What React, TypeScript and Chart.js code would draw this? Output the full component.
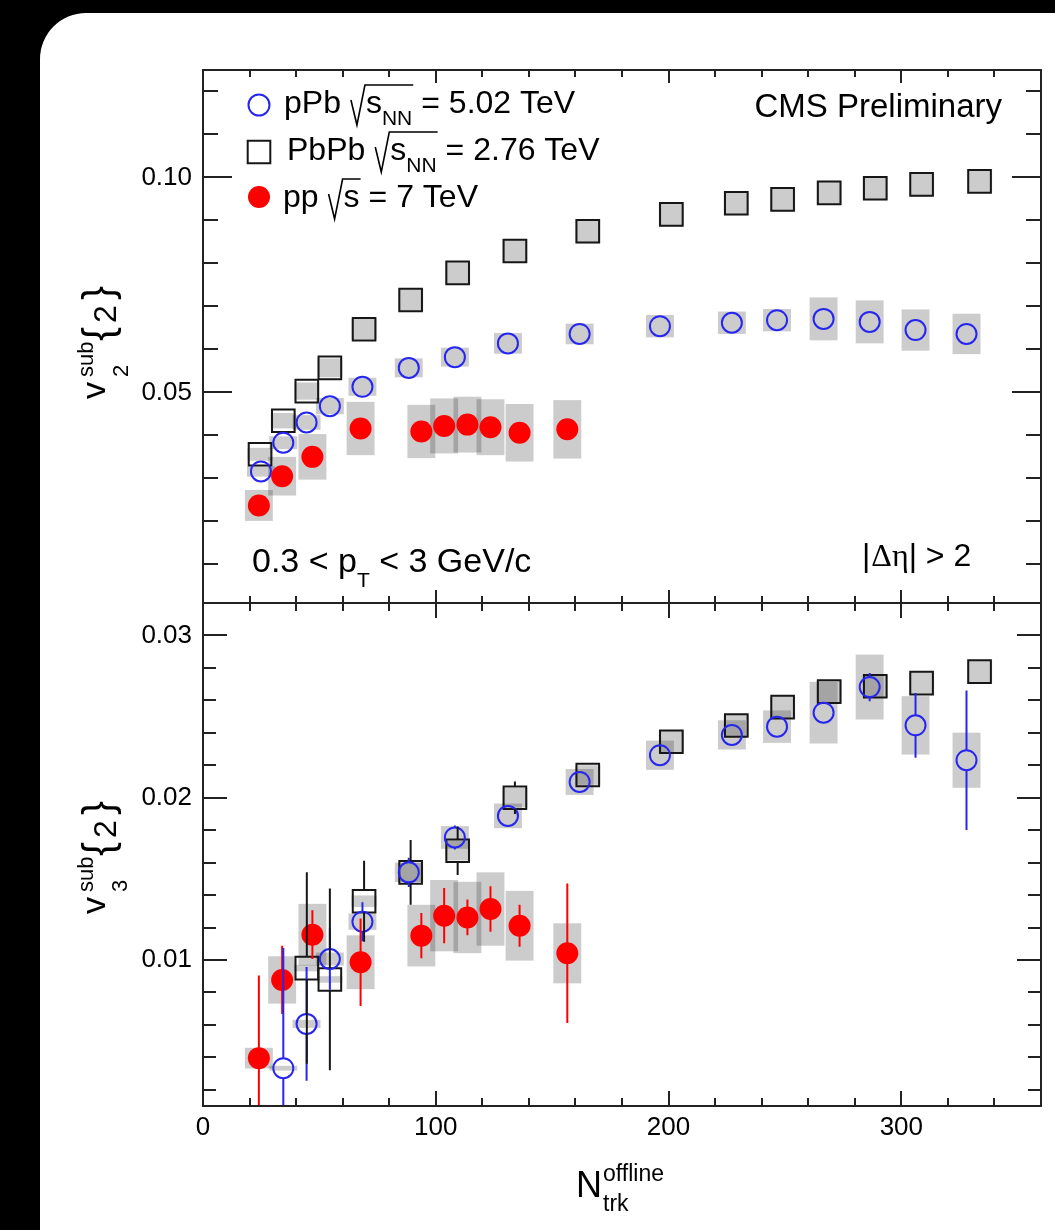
import React, { useEffect, useRef } from 'react';
import { Chart, registerables } from 'chart.js';

Chart.register(...registerables);

const SANS = '"Liberation Sans", Arial, Helvetica, sans-serif';
const SERIF = '"Liberation Serif", "DejaVu Serif", Times, serif';

const BLUE = '#2626ee';
const RED = '#ff0000';
const BLACK = '#161616';
const BOX = 'rgba(0,0,0,0.2)';

// ---- x values (N_trk^offline) ----
const pPbN = [24.9, 34.5, 44.5, 54.5, 68.5, 88.4, 108.2, 131, 161.8, 196.3, 227.2, 246.6, 266.6, 286.4, 306.1, 328];
const PbPbN = [24.5, 34.5, 44.6, 54.5, 69.2, 89.2, 109.4, 134, 165.3, 201.2, 229.1, 249, 269, 288.8, 308.7, 333.6];
const ppN = [24, 34, 47, 67.7, 93.8, 103.6, 113.6, 123.5, 136, 156.5];

// ---- v2 (top panel) ----
const pPbV2 = [0.0316, 0.0383, 0.043, 0.0468, 0.0513, 0.0557, 0.0582, 0.0614, 0.0636, 0.0654, 0.0662, 0.0668, 0.0671, 0.0664, 0.0645, 0.0636];
const pPbV2Sys = [0.0012, 0.0015, 0.0017, 0.0019, 0.0021, 0.0022, 0.0022, 0.0024, 0.0024, 0.0026, 0.0026, 0.0026, 0.005, 0.005, 0.0048, 0.0047];
const PbPbV2 = [0.0356, 0.0434, 0.0503, 0.0557, 0.0647, 0.0715, 0.0778, 0.0829, 0.0875, 0.0914, 0.094, 0.0949, 0.0964, 0.0975, 0.0984, 0.0991];
const PbPbV2Sys = [0.0015, 0.0018, 0.002, 0.0022, 0.0024, 0.0026, 0.0027, 0.0028, 0.0028, 0.0028, 0.0028, 0.0028, 0.0028, 0.0028, 0.0028, 0.0028];
const ppV2 = [0.0237, 0.0305, 0.035, 0.0416, 0.0409, 0.0422, 0.0425, 0.0419, 0.0406, 0.0414];
const ppV2Sys = [0.0036, 0.0045, 0.0053, 0.0062, 0.0062, 0.0064, 0.0065, 0.0065, 0.0067, 0.0068];

// ---- v3 (bottom panel) ----
const pPbV3 = [null, 0.00333, 0.00606, 0.01006, 0.01236, 0.0154, 0.01755, 0.01888, 0.02097, 0.02262, 0.02387, 0.02438, 0.02524, 0.02682, 0.02446, 0.02231];
const pPbV3Stat = [null, 0.0074, 0.0035, 0.0019, 0.0012, 0.0009, 0.00074, 0.0005, 0.0005, 0.0005, 0.0005, 0.0005, 0.0006, 0.00087, 0.002, 0.0043];
const pPbV3Sys = [null, 0.00015, 0.00025, 0.0004, 0.0005, 0.0006, 0.0007, 0.00076, 0.0008, 0.0009, 0.0009, 0.001, 0.0019, 0.002, 0.0018, 0.0017];
const PbPbV3 = [null, null, 0.0095, 0.0088, 0.01362, 0.0154, 0.01673, 0.02, 0.0214, 0.02345, 0.02445, 0.02558, 0.02654, 0.02687, 0.02706, 0.02777];
const PbPbV3Stat = [null, null, 0.0059, 0.0056, 0.0025, 0.002, 0.0015, 0.001, 0.0006, 0.0004, 0.0004, 0.0004, 0.0004, 0.0004, 0.0004, 0.0004];
const PbPbV3Sys = [null, null, 0.0002, 0.0002, 0.00036, 0.0006, 0.0006, 0.0006, 0.0006, 0.0007, 0.0007, 0.0007, 0.0007, 0.0007, 0.0007, 0.0007];
const ppV3 = [0.00395, 0.00877, 0.01156, 0.00986, 0.0115, 0.01273, 0.01262, 0.01314, 0.01211, 0.01041];
const ppV3Stat = [0.0051, 0.0021, 0.0015, 0.0027, 0.0014, 0.0017, 0.0011, 0.0014, 0.0013, 0.0043];
const ppV3Sys = [0.00064, 0.00146, 0.0019, 0.00166, 0.0019, 0.0022, 0.0022, 0.00226, 0.00215, 0.00185];

// ---- axes / ticks ----
const xRange = [0, 360];
const xTicks = [0, 20, 40, 60, 80, 100, 120, 140, 160, 180, 200, 220, 240, 260, 280, 300, 320, 340, 360];
const xMajor = [0, 100, 200, 300];
const v2Range = [0.001, 0.125];
const v2Ticks = [0.01, 0.02, 0.03, 0.04, 0.05, 0.06, 0.07, 0.08, 0.09, 0.1, 0.11, 0.12];
const v2Major = [0.05, 0.1];
const v3Range = [0.001, 0.032];
const v3Ticks = [0.002, 0.004, 0.006, 0.008, 0.01, 0.012, 0.014, 0.016, 0.018, 0.02, 0.022, 0.024, 0.026, 0.028, 0.03];
const v3Major = [0.01, 0.02, 0.03];

type Pt = { x: number; y: number; e: number; s: number };
function pts(xs: number[], ys: (number | null)[], stat: (number | null)[] | null, sys: (number | null)[] | null): Pt[] {
  const out: Pt[] = [];
  xs.forEach((x, i) => {
    const y = ys[i];
    if (y == null) return;
    out.push({ x, y, e: stat ? (stat[i] as number) || 0 : 0, s: sys ? (sys[i] as number) || 0 : 0 });
  });
  return out;
}

const isIn = (arr: number[], v: number) => arr.some((m) => Math.abs(m - v) < 1e-9);

function makeDatasets(top: boolean) {
  return [
    {
      label: 'pp',
      data: top ? pts(ppN, ppV2, null, ppV2Sys) : pts(ppN, ppV3, ppV3Stat, ppV3Sys),
      pointStyle: 'circle', pointRadius: 11, pointBorderWidth: 0,
      pointBackgroundColor: RED, pointBorderColor: RED,
      boxHalf: 6, errColor: RED, errGap: 0,
    },
    {
      label: 'pPb',
      data: top ? pts(pPbN, pPbV2, null, pPbV2Sys) : pts(pPbN, pPbV3, pPbV3Stat, pPbV3Sys),
      pointStyle: 'circle', pointRadius: 10, pointBorderWidth: 2,
      pointBackgroundColor: 'rgba(0,0,0,0)', pointBorderColor: BLUE,
      boxHalf: 6, errColor: BLUE, errGap: 10,
    },
    {
      label: 'PbPb',
      data: top ? pts(PbPbN, PbPbV2, null, PbPbV2Sys) : pts(PbPbN, PbPbV3, PbPbV3Stat, PbPbV3Sys),
      pointStyle: 'rect', pointRadius: 16, pointBorderWidth: 2,
      pointBackgroundColor: 'rgba(0,0,0,0)', pointBorderColor: BLACK,
      boxHalf: 5.4, errColor: BLACK, errGap: 11,
    },
  ];
}

type Run = { t: string; size: number; dy?: number; font?: string; gap?: number };
function runs(ctx: CanvasRenderingContext2D, x: number, y: number, list: Run[]) {
  let cx = x;
  for (const r of list) {
    cx += r.gap || 0;
    ctx.font = `${r.size}px ${r.font || SANS}`;
    ctx.fillText(r.t, cx, y + (r.dy || 0));
    cx += ctx.measureText(r.t).width;
  }
  return cx;
}

function legendRow(ctx: CanvasRenderingContext2D, x: number, b: number, name: string, inner: Run[], rest: string) {
  const cx = runs(ctx, x, b, [{ t: name, size: 32 }]);
  const x0 = cx + 11;
  const innerStart = x0 + 14;
  const innerEnd = runs(ctx, innerStart, b, inner);
  ctx.beginPath();
  ctx.lineWidth = 1.6;
  ctx.strokeStyle = '#000';
  ctx.moveTo(x0 - 1, b - 13);
  ctx.lineTo(x0 + 5, b + 12);
  ctx.lineTo(x0 + 13, b - 28);
  ctx.lineTo(innerEnd + 1, b - 28);
  ctx.stroke();
  runs(ctx, innerEnd + 9, b, [{ t: rest, size: 32 }]);
}

function yTitle(ctx: CanvasRenderingContext2D, xb: number, yStart: number, sub: string, subDy: number) {
  ctx.save();
  ctx.translate(xb, yStart);
  ctx.rotate(-Math.PI / 2);
  ctx.fillStyle = '#000';
  ctx.textAlign = 'left';
  ctx.textBaseline = 'alphabetic';
  ctx.font = `34px ${SANS}`;
  ctx.fillText('v', 0, 0);
  ctx.font = `22px ${SANS}`;
  ctx.fillText('sub', 22, -12);
  ctx.fillText(sub, 22, subDy);
  ctx.font = `42px ${SANS}`;
  ctx.fillText('{', 58, 7);
  ctx.font = `32px ${SANS}`;
  ctx.fillText('2', 76, 11);
  ctx.font = `42px ${SANS}`;
  ctx.fillText('}', 99, 7);
  ctx.restore();
}

function drawMarker(ctx: CanvasRenderingContext2D, kind: string, x: number, y: number) {
  ctx.beginPath();
  if (kind === 'pPb') {
    ctx.arc(x, y, 10.5, 0, Math.PI * 2);
    ctx.lineWidth = 2; ctx.strokeStyle = BLUE; ctx.stroke();
  } else if (kind === 'PbPb') {
    ctx.rect(x - 11.3, y - 11.3, 22.6, 22.6);
    ctx.lineWidth = 2; ctx.strokeStyle = BLACK; ctx.stroke();
  } else {
    ctx.arc(x, y, 11, 0, Math.PI * 2);
    ctx.fillStyle = RED; ctx.fill();
  }
}

function decorateTop(ctx: CanvasRenderingContext2D) {
  ctx.save();
  ctx.fillStyle = '#000';
  ctx.textBaseline = 'alphabetic';
  ctx.textAlign = 'left';
  // legend
  drawMarker(ctx, 'pPb', 259, 105);
  drawMarker(ctx, 'PbPb', 259, 152);
  drawMarker(ctx, 'pp', 259, 197);
  ctx.fillStyle = '#000';
  legendRow(ctx, 284, 113, 'pPb', [{ t: 's', size: 32 }, { t: 'NN', size: 21, dy: 12 }], '= 5.02 TeV');
  legendRow(ctx, 287, 160, 'PbPb', [{ t: 's', size: 32 }, { t: 'NN', size: 21, dy: 12 }], '= 2.76 TeV');
  legendRow(ctx, 283, 207, 'pp', [{ t: 's', size: 32 }], '= 7 TeV');
  // CMS label
  ctx.textAlign = 'right';
  ctx.font = `33px ${SANS}`;
  ctx.fillText('CMS Preliminary', 1002, 117);
  ctx.textAlign = 'left';
  // pT range
  runs(ctx, 252, 572, [
    { t: '0.3 < p', size: 34 },
    { t: 'T', size: 21, dy: 15 },
    { t: ' < 3 GeV/c', size: 34 },
  ]);
  // delta eta
  runs(ctx, 862, 566, [
    { t: '|', size: 32 },
    { t: '\u0394\u03b7', size: 32, font: SERIF, gap: 1 },
    { t: '|', size: 32 },
    { t: ' > 2', size: 32 },
  ]);
  ctx.restore();
  yTitle(ctx, 105, 399, '2', 23);
}

function decorateBottom(ctx: CanvasRenderingContext2D) {
  yTitle(ctx, 105, 914, '3', 22);
  ctx.save();
  ctx.fillStyle = '#000';
  ctx.textAlign = 'left';
  ctx.textBaseline = 'alphabetic';
  ctx.font = `36px ${SANS}`;
  ctx.fillText('N', 576, 1197);
  ctx.font = `23px ${SANS}`;
  ctx.fillText('offline', 603, 1181);
  ctx.fillText('trk', 603, 1211);
  ctx.restore();
}

type PanelCfg = {
  name: string;
  yTicks: number[];
  yMajor: number[];
  xLen: [number, number];
  yLen: [number, number];
  decorate: (ctx: CanvasRenderingContext2D) => void;
};

function makePanelPlugin(cfg: PanelCfg) {
  return {
    id: 'panel_' + cfg.name,
    beforeDatasetsDraw(chart: any) {
      const { ctx, chartArea: a } = chart;
      const xs = chart.scales.x, ys = chart.scales.y;
      ctx.save();
      ctx.beginPath();
      ctx.rect(a.left, a.top, a.right - a.left, a.bottom - a.top);
      ctx.clip();
      ctx.fillStyle = BOX;
      chart.data.datasets.forEach((ds: any) => {
        ds.data.forEach((p: Pt) => {
          if (!p.s) return;
          const x0 = xs.getPixelForValue(p.x - ds.boxHalf);
          const x1 = xs.getPixelForValue(p.x + ds.boxHalf);
          const y0 = ys.getPixelForValue(p.y + p.s);
          const y1 = ys.getPixelForValue(p.y - p.s);
          ctx.fillRect(x0, y0, x1 - x0, y1 - y0);
        });
      });
      ctx.restore();
    },
    afterDatasetsDraw(chart: any) {
      const { ctx, chartArea: a } = chart;
      const xs = chart.scales.x, ys = chart.scales.y;
      ctx.save();
      ctx.beginPath();
      ctx.rect(a.left, a.top, a.right - a.left, a.bottom - a.top);
      ctx.clip();
      ctx.lineWidth = 2;
      chart.data.datasets.forEach((ds: any) => {
        ctx.strokeStyle = ds.errColor;
        ctx.beginPath();
        ds.data.forEach((p: Pt) => {
          if (!p.e) return;
          const px = xs.getPixelForValue(p.x);
          const py = ys.getPixelForValue(p.y);
          const t = ys.getPixelForValue(p.y + p.e);
          const b = ys.getPixelForValue(p.y - p.e);
          const g = ds.errGap;
          if (t < py - g) { ctx.moveTo(px, t); ctx.lineTo(px, py - g); }
          if (b > py + g) { ctx.moveTo(px, py + g); ctx.lineTo(px, b); }
        });
        ctx.stroke();
      });
      ctx.restore();
    },
    afterDraw(chart: any) {
      const { ctx, chartArea: a } = chart;
      const xs = chart.scales.x, ys = chart.scales.y;
      ctx.save();
      ctx.strokeStyle = '#222';
      ctx.lineWidth = 2;
      ctx.beginPath();
      xTicks.forEach((v) => {
        if (v <= xRange[0] || v >= xRange[1]) return;
        const L = isIn(xMajor, v) ? cfg.xLen[0] : cfg.xLen[1];
        const px = Math.round(xs.getPixelForValue(v));
        ctx.moveTo(px, a.bottom); ctx.lineTo(px, a.bottom - L);
        ctx.moveTo(px, a.top); ctx.lineTo(px, a.top + L);
      });
      cfg.yTicks.forEach((v) => {
        const L = isIn(cfg.yMajor, v) ? cfg.yLen[0] : cfg.yLen[1];
        const py = Math.round(ys.getPixelForValue(v));
        ctx.moveTo(a.left, py); ctx.lineTo(a.left + L, py);
        ctx.moveTo(a.right, py); ctx.lineTo(a.right - L, py);
      });
      ctx.stroke();
      ctx.strokeRect(a.left, a.top, a.right - a.left, a.bottom - a.top);
      ctx.restore();
      cfg.decorate(ctx);
    },
  };
}

const tickFont = { family: SANS, size: 26 };

function buildChart(canvas: HTMLCanvasElement, top: boolean) {
  const yTicks = top ? v2Ticks : v3Ticks;
  const yMajor = top ? v2Major : v3Major;
  const yRange = top ? v2Range : v3Range;
  const cfg: PanelCfg = top
    ? { name: 'top', yTicks, yMajor, xLen: [13, 7], yLen: [29, 15], decorate: decorateTop }
    : { name: 'bottom', yTicks, yMajor, xLen: [15, 8], yLen: [24, 13], decorate: decorateBottom };
  return new Chart(canvas, {
    type: 'scatter',
    data: { datasets: makeDatasets(top) as any },
    plugins: [makePanelPlugin(cfg) as any],
    options: {
      responsive: false,
      animation: false,
      devicePixelRatio: 1,
      events: [],
      layout: {
        autoPadding: false,
        padding: top ? { left: 0, top: 70, right: 14, bottom: 1230 - 603 } : { left: 0, top: 603, right: 14, bottom: 0 },
      },
      scales: {
        x: {
          type: 'linear',
          min: xRange[0],
          max: xRange[1],
          display: !top,
          afterBuildTicks: (s: any) => { s.ticks = xTicks.map((v) => ({ value: v })); },
          afterFit: (s: any) => { s.height = top ? 0 : 124; },
          grid: { display: false, drawTicks: false },
          border: { display: false },
          ticks: {
            autoSkip: false, maxRotation: 0, minRotation: 0, padding: 6,
            font: tickFont, color: '#000',
            callback: (v: any) => (isIn(xMajor, Number(v)) ? String(v) : ''),
          },
        },
        y: {
          type: 'linear',
          min: yRange[0],
          max: yRange[1],
          afterBuildTicks: (s: any) => { s.ticks = yTicks.map((v) => ({ value: v })); },
          afterFit: (s: any) => { s.width = 203; },
          grid: { display: false, drawTicks: false },
          border: { display: false },
          ticks: {
            autoSkip: false, padding: 11, font: tickFont, color: '#000',
            callback: (v: any) => (isIn(yMajor, Number(v)) ? Number(v).toFixed(2) : ''),
          },
        },
      },
      plugins: { legend: { display: false }, tooltip: { enabled: false } },
    } as any,
  });
}

export default function App() {
  const topRef = useRef<HTMLCanvasElement>(null);
  const botRef = useRef<HTMLCanvasElement>(null);
  useEffect(() => {
    const c1 = buildChart(topRef.current!, true);
    const c2 = buildChart(botRef.current!, false);
    return () => { c1.destroy(); c2.destroy(); };
  }, []);
  const cs: React.CSSProperties = { position: 'absolute', left: 0, top: 0, width: 1055, height: 1230 };
  return (
    <div style={{ position: 'fixed', left: 0, top: 0, width: 1055, height: 1230, background: '#000', overflow: 'hidden' }}>
      <div style={{ position: 'absolute', left: 40, top: 13, width: 1100, height: 1300, background: '#fff', borderRadius: 46 }} />
      <canvas ref={botRef} width={1055} height={1230} style={cs} />
      <canvas ref={topRef} width={1055} height={1230} style={cs} />
    </div>
  );
}
